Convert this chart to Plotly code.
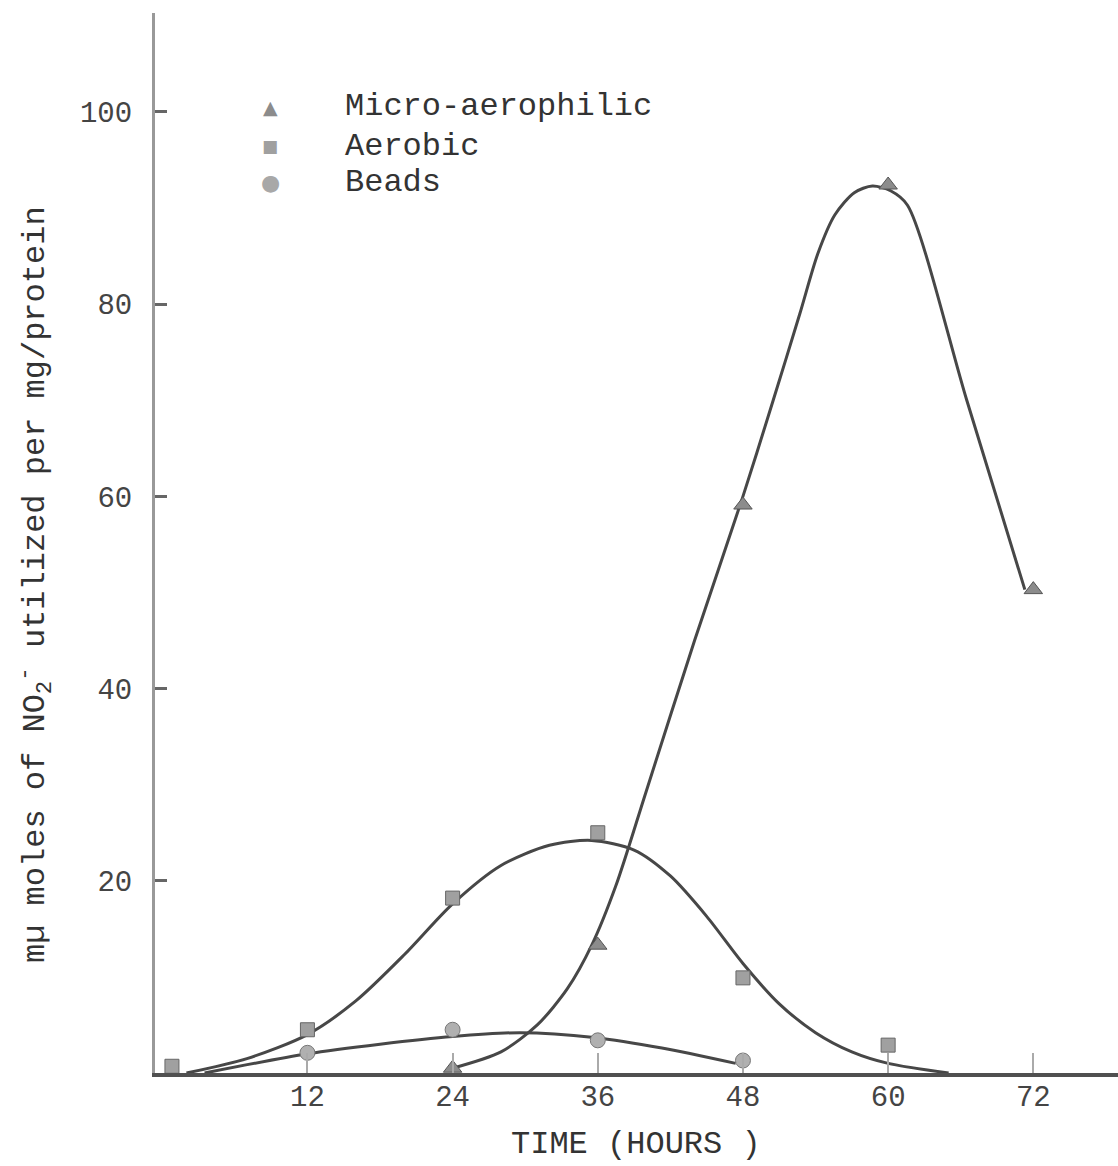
import plotly.graph_objects as go

# ---- data ----
hours_micro = [24, 36, 48, 60, 72]
micro = [0.5, 13.3, 59.1, 92.4, 50.3]

hours_aerobic = [0.8, 12, 24, 36, 48, 60]
aerobic = [0.7, 4.5, 18.2, 25.0, 9.9, 2.9]

hours_beads = [12, 24, 36, 48]
beads = [2.1, 4.5, 3.4, 1.3]

# hand-drawn smoothed curves (knots)
micro_curve_x = [24, 28, 31, 33.5, 35.5, 37.5, 40, 44, 48, 50.5, 52.7, 54.2, 55.6, 57.2, 58.7, 60.2, 61.6, 66.5, 71.3]
micro_curve_y = [0.5, 2.2, 5.0, 8.8, 13.3, 19.5, 29.3, 45.0, 60.0, 70.0, 79.0, 85.3, 89.3, 91.6, 92.3, 91.8, 90.3, 70.0, 50.3]

aerobic_curve_x = [2, 7, 12, 16, 20, 24, 28, 32, 35.5, 39, 42, 45, 48, 51, 54, 57, 60, 65]
aerobic_curve_y = [0.0, 1.5, 4.0, 7.5, 12.3, 17.6, 21.6, 23.7, 24.2, 23.2, 20.5, 16.3, 11.4, 7.2, 4.2, 2.2, 1.0, 0.0]

beads_curve_x = [3.5, 12, 18, 24, 29.6, 35.7, 41.3, 47.4]
beads_curve_y = [0.0, 2.0, 3.0, 3.8, 4.2, 3.7, 2.6, 1.0]

x_ticks = [12, 24, 36, 48, 60, 72]
y_ticks = [20, 40, 60, 80, 100]

legend_labels = ["Micro-aerophilic", "Aerobic", "Beads"]
legend_glyphs = ["\u25b2", "\u25a0", "\u25cf"]

FONT = "Liberation Mono, Courier New, monospace"
LINE = "#474747"

fig = go.Figure()

# curves
for cx, cy in [(micro_curve_x, micro_curve_y),
               (aerobic_curve_x, aerobic_curve_y),
               (beads_curve_x, beads_curve_y)]:
    fig.add_trace(go.Scatter(x=cx, y=cy, mode="lines",
                             line=dict(color=LINE, width=3, shape="spline", smoothing=0.8),
                             showlegend=False, hoverinfo="skip"))

# markers
fig.add_trace(go.Scatter(x=hours_micro, y=micro, mode="markers", name="Micro-aerophilic",
                         showlegend=False,
                         marker=dict(symbol="triangle-up", size=16, color="#8c8c8c",
                                     line=dict(color="#555", width=1))))
fig.add_trace(go.Scatter(x=hours_aerobic, y=aerobic, mode="markers", name="Aerobic",
                         showlegend=False,
                         marker=dict(symbol="square", size=14, color="#a0a0a0",
                                     line=dict(color="#666", width=1))))
fig.add_trace(go.Scatter(x=hours_beads, y=beads, mode="markers", name="Beads",
                         showlegend=False,
                         marker=dict(symbol="circle", size=15, color="#b0b0b0",
                                     line=dict(color="#777", width=1))))

# plot area in pixels: left 155, right 1118, top 13, bottom 1073
L, R, T, B = 155, 1118, 13, 1073
def px(x):
    return (x - L) / (R - L)
def py(y):
    return (B - y) / (B - T)

annotations = [
    dict(text="TIME (HOURS )", xref="paper", yref="paper",
         x=px(636), y=py(1144), xanchor="center", yanchor="middle",
         showarrow=False, font=dict(family=FONT, size=32, color="#333")),
    dict(text="m\u00b5 moles of NO<sub>2</sub><sup>-</sup> utilized per mg/protein",
         xref="paper", yref="paper", textangle=-90,
         x=px(35), y=py(585), xanchor="center", yanchor="middle",
         showarrow=False, font=dict(family=FONT, size=32, color="#333")),
]
legend_rows = [107, 146, 183]
glyph_sizes = [19, 17, 22]
glyph_colors = ["#8c8c8c", "#a0a0a0", "#a8a8a8"]
for lbl, g, row, gs, gc in zip(legend_labels, legend_glyphs, legend_rows, glyph_sizes, glyph_colors):
    annotations.append(dict(text=g, xref="paper", yref="paper", x=px(270), y=py(row),
                            xanchor="center", yanchor="middle", showarrow=False,
                            font=dict(family="DejaVu Sans", size=gs, color=gc)))
    annotations.append(dict(text=lbl, xref="paper", yref="paper", x=px(343), y=py(row),
                            xanchor="left", yanchor="middle", showarrow=False,
                            font=dict(family=FONT, size=32, color="#333")))

fig.update_layout(
    width=1118, height=1166,
    margin=dict(l=L, r=0, t=T, b=1166 - B),
    paper_bgcolor="white", plot_bgcolor="white",
    font=dict(family=FONT, color="#333"),
    showlegend=False,
    xaxis=dict(range=[-0.6, 79.0], tickvals=x_ticks, showgrid=False, zeroline=False,
               showline=True, linecolor="#505050", linewidth=4,
               ticks="inside", ticklen=20, tickwidth=2, tickcolor="#aaaaaa",
               ticklabelstandoff=-6,
               tickfont=dict(family=FONT, size=29, color="#444")),
    yaxis=dict(range=[0, 110.3], tickvals=y_ticks, showgrid=False, zeroline=False,
               showline=True, linecolor="#999", linewidth=3, ticks="inside",
               ticklen=12, tickwidth=3, tickcolor="#666", ticklabelstandoff=14,
               tickfont=dict(family=FONT, size=29, color="#444")),
    annotations=annotations,
)

fig.write_html("out.html")
